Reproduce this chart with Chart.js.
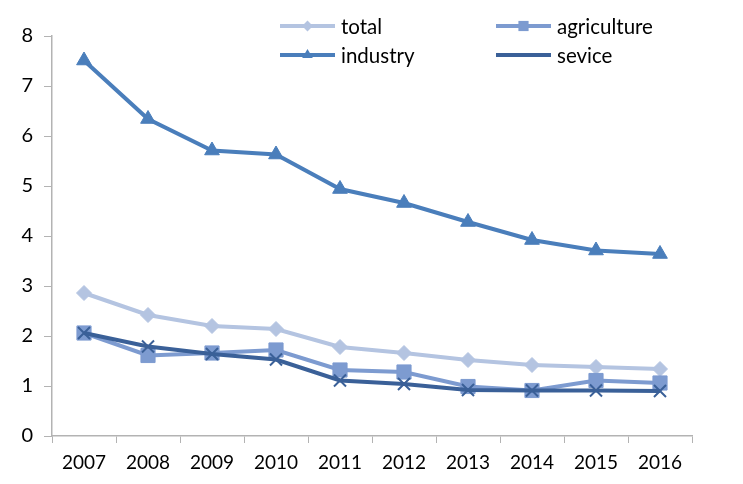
<!DOCTYPE html>
<html>
<head>
<meta charset="utf-8">
<script src="https://cdn.jsdelivr.net/npm/chart.js"></script>
<style>
  html, body { margin: 0; padding: 0; background: #fff; }
  #wrap { width: 743px; height: 484px; }
</style>
</head>
<body>
<div id="wrap"><canvas id="chart" width="743" height="484"></canvas></div>
<script>
const years = ['2007', '2008', '2009', '2010', '2011', '2012', '2013', '2014', '2015', '2016'];
const total = [2.86, 2.42, 2.20, 2.14, 1.78, 1.66, 1.52, 1.42, 1.38, 1.34];
const agriculture = [2.06, 1.61, 1.66, 1.72, 1.32, 1.28, 0.99, 0.91, 1.11, 1.06];
const industry = [7.51, 6.34, 5.71, 5.63, 4.94, 4.66, 4.28, 3.92, 3.71, 3.64];
const sevice = [2.06, 1.79, 1.64, 1.53, 1.11, 1.04, 0.92, 0.91, 0.91, 0.90];

const FONT = 'Lato';
const axisGray = '#b3b3b3';

function series(label, data, color, style, radius, order) {
    return {
        label, data, order,
        borderColor: color,
        backgroundColor: color,
        borderWidth: 4,
        pointStyle: style,
        pointRadius: radius,
        pointHoverRadius: radius,
        pointBackgroundColor: color,
        pointBorderColor: color,
        pointBorderWidth: style === 'crossRot' ? 2 : 1,
        tension: 0
    };
}

const datasets = [
    series('total', total, '#b4c4e1', 'rectRot', 7.5, 3),
    series('agriculture', agriculture, '#7d9bd0', 'rect', 10, 2),
    series('industry', industry, '#4a7ebb', 'triangle', 8.5, 1),
    series('sevice', sevice, '#3a6098', 'crossRot', 8.5, 0)
];

// legend drawn in two fixed columns, like the original
const legendSlots = [
    { i: 0, x: 280, y: 26 },
    { i: 1, x: 496, y: 26 },
    { i: 2, x: 280, y: 55 },
    { i: 3, x: 496, y: 55 }
];

const gridLegend = {
    id: 'gridLegend',
    afterDraw(chart) {
        const ctx = chart.ctx;
        ctx.save();
        legendSlots.forEach(({ i, x, y }) => {
            const ds = chart.data.datasets[i];
            ctx.strokeStyle = ds.borderColor;
            ctx.lineWidth = 4;
            ctx.beginPath();
            ctx.moveTo(x, y);
            ctx.lineTo(x + 55, y);
            ctx.stroke();
            ctx.fillStyle = ds.pointBackgroundColor;
            ctx.strokeStyle = ds.pointBorderColor;
            ctx.lineWidth = ds.pointBorderWidth;
            Chart.helpers.drawPoint(ctx, { pointStyle: ds.pointStyle, radius: ds.pointRadius * 0.72, rotation: 0 }, x + 27.5, y);
            ctx.fillStyle = '#000';
            ctx.font = '20.5px ' + FONT;
            ctx.textBaseline = 'middle';
            ctx.textAlign = 'left';
            ctx.fillText(ds.label, x + 61, y + 1);
        });
        ctx.restore();
    }
};

new Chart(document.getElementById('chart'), {
    type: 'line',
    data: { labels: years, datasets },
    plugins: [gridLegend],
    options: {
        responsive: false,
        animation: false,
        layout: { padding: { top: 36, right: 51, bottom: 0, left: 0 } },
        plugins: {
            legend: { display: false },
            tooltip: { enabled: false }
        },
        scales: {
            x: {
                offset: true,
                afterFit: (s) => { s.height = 48; },
                grid: { offset: true, drawOnChartArea: false, drawTicks: true, tickLength: 7, color: axisGray, lineWidth: 1 },
                border: { color: axisGray, width: 1.5 },
                ticks: { color: '#000', font: { family: FONT, size: 19 }, padding: 8, maxRotation: 0, autoSkip: false }
            },
            y: {
                min: 0,
                max: 8,
                afterFit: (s) => { s.width = 52; },
                grid: { drawOnChartArea: false, drawTicks: true, tickLength: 8, color: axisGray, lineWidth: 1 },
                border: { color: axisGray, width: 1.5 },
                ticks: { stepSize: 1, color: '#000', font: { family: FONT, size: 20 }, padding: 11 }
            }
        }
    }
});
</script>
</body>
</html>
